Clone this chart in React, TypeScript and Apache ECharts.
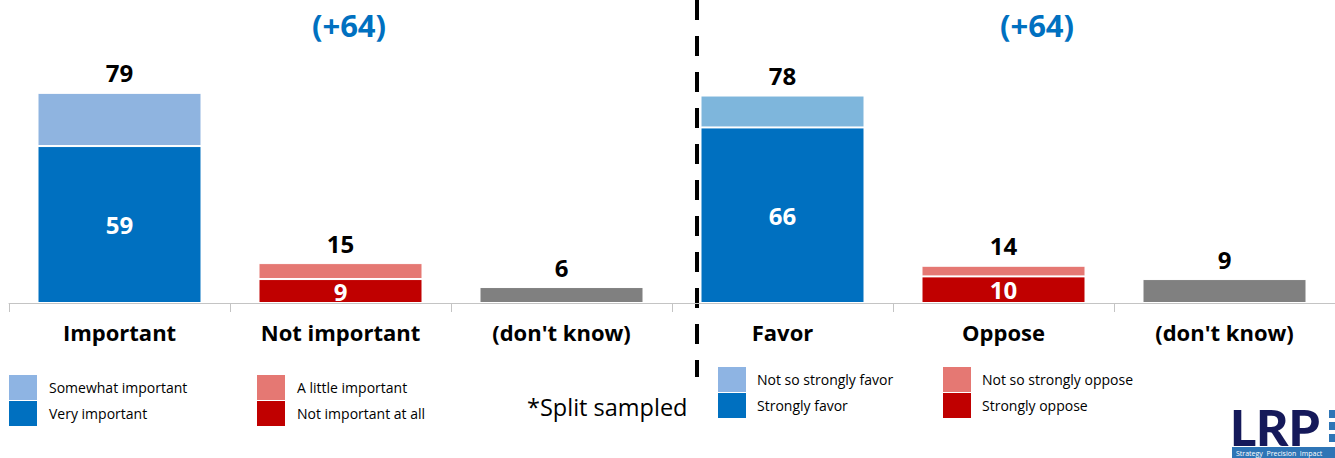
import React, { useEffect, useRef } from "react";
import * as echarts from "echarts";

const categories = ["Important", "Not important", "(don't know)", "Favor", "Oppose", "(don't know)"];
const strongValues = [59, 9, null, 66, 10, null];
const weakValues = [20, 6, null, 12, 4, null];
const dkValues = [null, null, 6, null, null, 9];
const totals = [79, 15, 6, 78, 14, 9];
const strongColors = ["#0070C0", "#C00000", null, "#0070C0", "#C00000", null];
const weakColors = ["#8FB4E0", "#E57873", null, "#7EB6DC", "#E57873", null];
const netLabels = ["(+64)", "(+64)"];
const legendLeft = [
  ["Somewhat important", "#8EB4E3"],
  ["Very important", "#0070C0"],
  ["A little important", "#E57873"],
  ["Not important at all", "#C00000"],
];
const legendRight = [
  ["Not so strongly favor", "#8EB4E3"],
  ["Strongly favor", "#0070C0"],
  ["Not so strongly oppose", "#E57873"],
  ["Strongly oppose", "#C00000"],
];
const FONT = "'Open Sans', Lato, sans-serif";

export default function App() {
  const ref = useRef<HTMLDivElement>(null);
  useEffect(() => {
    document.body.style.margin = "0";
    const chart = echarts.init(ref.current!, null, { renderer: "svg" });
    const legendItems: any[] = [];
    const addLegend = (items: string[][], x0: number, x1: number, y0: number, h: number, tx: number) => {
      items.forEach((it, i) => {
        const col = Math.floor(i / 2);
        const row = i % 2;
        const sx = col === 0 ? x0 : x1;
        legendItems.push({
          type: "rect",
          shape: { x: sx, y: y0 + row * (h + 1), width: 28, height: h },
          style: { fill: it[1] },
        });
        legendItems.push({
          type: "text",
          x: sx + tx,
          y: y0 + row * (h + 1) + h / 2,
          style: { text: it[0], fill: "#000", font: `14px ${FONT}`, verticalAlign: "middle" },
        });
      });
    };
    addLegend(legendLeft, 9, 257, 375, 25, 40);
    addLegend(legendRight, 718, 943, 367, 25, 39);

    const labelBase = { fontFamily: FONT, fontWeight: "bold" as const, fontSize: 24 };

    chart.setOption({
      animation: false,
      grid: { left: 9, width: 1327, top: 37, height: 266 },
      xAxis: {
        type: "category",
        data: categories,
        axisLine: { lineStyle: { color: "#C4C4C4", width: 1 } },
        axisTick: { show: true, length: 9, lineStyle: { color: "#C4C4C4" } },
        axisLabel: { color: "#000", fontFamily: FONT, fontWeight: "bold", fontSize: 22, margin: 18 },
      },
      yAxis: { type: "value", min: 0, max: 100, show: false, splitLine: { show: false } },
      series: [
        {
          type: "bar",
          stack: "a",
          barWidth: 164,
          data: strongValues.map((v, i) => ({ value: v, itemStyle: { color: strongColors[i] || "#000" } })),
          itemStyle: { borderColor: "#FFFFFF", borderWidth: 1 },
          label: { show: true, position: "inside", color: "#fff", ...labelBase },
        },
        {
          type: "bar",
          stack: "a",
          barWidth: 164,
          data: weakValues.map((v, i) => ({ value: v, itemStyle: { color: weakColors[i] || "#000" } })),
          itemStyle: { borderColor: "#FFFFFF", borderWidth: 1 },
          label: {
            show: true,
            position: "top",
            distance: 8,
            color: "#000",
            ...labelBase,
            formatter: (p: any) => String(totals[p.dataIndex]),
          },
        },
        {
          type: "bar",
          stack: "a",
          barWidth: 164,
          data: dkValues,
          itemStyle: { color: "#808080", borderColor: "#FFFFFF", borderWidth: 1 },
          label: { show: true, position: "top", distance: 8, color: "#000", ...labelBase },
        },
      ],
      graphic: [
        {
          type: "line",
          shape: { x1: 697, y1: 0, x2: 697, y2: 377 },
          style: { stroke: "#000", lineWidth: 4, lineDash: [20, 16] },
        },
        {
          type: "text",
          x: 349,
          y: 25,
          style: { text: netLabels[0], fill: "#0070C0", font: `bold 31px ${FONT}`, align: "center", verticalAlign: "middle" },
        },
        {
          type: "text",
          x: 1037,
          y: 25,
          style: { text: netLabels[1], fill: "#0070C0", font: `bold 31px ${FONT}`, align: "center", verticalAlign: "middle" },
        },
        {
          type: "text",
          x: 527,
          y: 407,
          style: { text: "*Split sampled", fill: "#000", font: `23.5px ${FONT}`, verticalAlign: "middle" },
        },
        ...legendItems,
        {
          type: "text",
          x: 1230,
          y: 427,
          style: {
            text: "LRP",
            fill: "#15195A",
            font: `900 50px Lato, sans-serif`,
            lineHeight: 40,
            verticalAlign: "middle",
          },
        },
        { type: "rect", shape: { x: 1329, y: 410, width: 6, height: 8 }, style: { fill: "#2E75B6" } },
        { type: "rect", shape: { x: 1329, y: 422, width: 6, height: 8 }, style: { fill: "#2E75B6" } },
        { type: "rect", shape: { x: 1329, y: 434, width: 6, height: 8 }, style: { fill: "#2E75B6" } },
        { type: "rect", shape: { x: 1232, y: 447, width: 103, height: 11 }, style: { fill: "#2E75B6" } },
        {
          type: "text",
          x: 1236,
          y: 453,
          style: { text: "Strategy  Precision  Impact", fill: "#fff", font: `7px ${FONT}`, lineHeight: 9, verticalAlign: "middle" },
        },
      ],
    });
    return () => chart.dispose();
  }, []);
  return <div ref={ref} style={{ width: 1335, height: 458 }} />;
}
